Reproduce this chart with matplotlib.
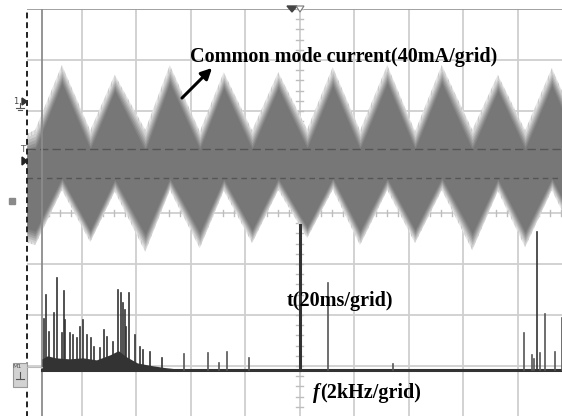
import matplotlib
matplotlib.use("Agg")
import matplotlib.pyplot as plt
from matplotlib.patches import Rectangle, FancyArrowPatch
import numpy as np

# ---------------- data ----------------
# time-domain envelope vertices (divisions, 20 ms/div)
wave_t = [0.00, 0.15, 0.64, 1.16, 1.61, 2.17, 2.62, 3.17, 3.61, 4.13, 4.61,
          5.14, 5.61, 6.11, 6.61, 7.12, 7.61, 8.17, 8.64, 9.14, 9.63, 10.14]
upper_outer = [1.55, 1.63, 2.90, 1.62, 2.71, 1.63, 2.90, 1.60, 2.76, 1.62, 2.76,
               1.64, 2.86, 1.62, 2.90, 1.60, 2.90, 1.63, 2.71, 1.62, 2.84, 1.62]
upper_inner = [1.20, 1.25, 2.55, 1.25, 2.40, 1.22, 2.55, 1.25, 2.45, 1.25, 2.45,
               1.27, 2.50, 1.25, 2.55, 1.25, 2.55, 1.24, 2.40, 1.25, 2.50, 1.25]
lower_inner = [-0.30, -0.36, 0.69, -0.34, 0.66, -0.42, 0.68, -0.38, 0.67, -0.33, 0.68,
               -0.28, 0.69, -0.35, 0.68, -0.33, 0.69, -0.40, 0.67, -0.37, 0.68, -0.36]
lower_outer = [-0.58, -0.63, 0.45, -0.57, 0.42, -0.76, 0.45, -0.69, 0.44, -0.59, 0.45,
               -0.49, 0.46, -0.63, 0.45, -0.59, 0.45, -0.73, 0.43, -0.67, 0.45, -0.66]

# spectrum (kHz, 2 kHz/div) : spike heights in divisions above baseline
spec_f = [0.07, 0.15, 0.26, 0.44, 0.55, 0.73, 0.81, 0.84, 1.03, 1.14, 1.28, 1.39,
          1.50, 1.65, 1.80, 1.91, 2.13, 2.28, 2.39, 2.61, 2.79, 2.90, 2.97, 3.05,
          3.08, 3.19, 3.41, 3.60, 3.71, 3.96, 4.40, 5.21, 6.09, 6.50, 6.79, 7.60,
          9.47, 10.50, 12.88, 17.69, 17.98, 18.06, 18.17, 18.28, 18.46, 18.83, 19.08]
spec_a = [1.00, 1.47, 0.75, 1.12, 1.80, 0.73, 1.55, 0.98, 0.73, 0.69, 0.63, 0.84,
          0.98, 0.69, 0.63, 0.45, 0.43, 0.78, 0.65, 0.55, 1.57, 1.51, 1.31, 1.18,
          0.84, 1.51, 0.69, 0.45, 0.39, 0.35, 0.24, 0.31, 0.33, 0.14, 0.35, 0.24,
          2.84, 1.71, 0.12, 0.73, 0.30, 0.22, 2.70, 0.34, 1.10, 0.35, 1.02]
hump_f = [0.0, 0.2, 0.5, 1.0, 1.5, 2.0, 2.5, 2.8, 3.1, 3.5, 4.0, 4.5, 5.0]
hump_a = [0.22, 0.28, 0.24, 0.22, 0.24, 0.20, 0.30, 0.38, 0.26, 0.14, 0.09, 0.05, 0.02]

W, H = 562, 416
plt.rcParams["hatch.linewidth"] = 0.6
fig = plt.figure(figsize=(W / 100, H / 100), dpi=100)
fig.patch.set_facecolor("white")

def fx(px):
    return px / W

def fy(py):
    return 1 - py / H

# axes: 10 x 8 divisions, left edge at px 27, top at px 9
ax = fig.add_axes([fx(27), fy(417), 545 / W, 408 / H])
ax.set_xlim(0, 10)
ax.set_ylim(-4, 4)
ax.axis("off")

grid_c = "#cfcfcf"
for k in range(1, 10):
    ax.axvline(k, color=grid_c, lw=1.3, zorder=0)
for k in range(-3, 4):
    ax.axhline(k, color=grid_c, lw=1.3, zorder=0)
ax.axhline(4, color="#9a9a9a", lw=1.3, zorder=0)

# centre axes with minor ticks
for v in np.arange(-4, 4.01, 0.2):
    ax.plot([4.94, 5.06], [v, v], color="#bdbdbd", lw=1.0, zorder=0)
for v in np.arange(0, 10.01, 0.2):
    ax.plot([v, v], [-0.06, 0.06], color="#bdbdbd", lw=1.0, zorder=0)

# waveform band: graded layers between outer and inner envelopes
uo, ui = np.array(upper_outer), np.array(upper_inner)
lo, li = np.array(lower_outer), np.array(lower_inner)
ax.fill_between(wave_t, lo, uo, facecolor="#e4e4e4", edgecolor="#c4c4c4",
                hatch="|||||", lw=0, zorder=2)
shades = ["#cfcfcf", "#bababa", "#a6a6a6", "#939393", "#838383", "#777777"]
n = len(shades)
for i, c in enumerate(shades):
    s = (i + 1) / n
    ax.fill_between(wave_t, lo + (li - lo) * s, uo + (ui - uo) * s,
                    color=c, lw=0, zorder=2)

# cursors
ax.axhline(1.25, color="#555555", lw=1.0, ls=(0, (6, 3)), zorder=3)
ax.axhline(0.69, color="#555555", lw=1.0, ls=(0, (4, 3)), zorder=3)
ax.axvline(0.275, color="#8c8c8c", lw=1.3, zorder=3)
ax.plot([0, 0], [-4, 4], color="#222222", lw=1.4, ls=(0, (3, 2)), zorder=4, clip_on=False)

# spectrum
base = -3.08
f0 = 0.275
st = [f0 + f / 2 for f in spec_f]
hx = [f0 + f / 2 for f in hump_f]
ax.fill_between(hx, base, [base + a for a in hump_a], color="#333333", lw=0, zorder=4)
ax.plot([f0, 10], [base, base], color="#333333", lw=2.2, zorder=4)
for t, a in zip(st, spec_a):
    lw = 2.2 if a > 2.8 else 1.2
    col = "#333333" if (a > 2.5 or t < 2.5) else "#555555"
    ax.plot([t, t], [base, base + a], color=col, lw=lw, zorder=4)

# annotations
serif = ["Liberation Serif", "DejaVu Serif"]
fig.text(fx(344), fy(57), "Common mode current(40mA/grid)", family=serif,
         weight="bold", fontsize=14.5, ha="center", va="center")
fig.text(fx(340), fy(301), "t(20ms/grid)", family=serif, weight="bold",
         fontsize=14.5, ha="center", va="center")
fig.text(fx(313), fy(393), "f", family=serif, weight="bold", style="italic",
         fontsize=14.5, ha="left", va="center")
fig.text(fx(320), fy(393), "(2kHz/grid)", family=serif, weight="bold",
         fontsize=14.5, ha="left", va="center")
fig.patches.append(FancyArrowPatch((fx(180), fy(100)), (fx(214), fy(66)),
                                   transform=fig.transFigure, arrowstyle="-|>",
                                   mutation_scale=16, lw=2.2, color="black"))

# left side markers
fig.text(fx(16), fy(101), "1", fontsize=6, color="#444444", ha="center", va="center")
fig.patches.append(plt.Polygon([(fx(22), fy(98)), (fx(22), fy(105)), (fx(27), fy(101.5))],
                               closed=True, transform=fig.transFigure, color="#333333"))
fig.lines.append(plt.Line2D([fx(20), fx(20)], [fy(103), fy(108)], transform=fig.transFigure,
                            color="#555555", lw=0.8))
fig.lines.append(plt.Line2D([fx(16), fx(24)], [fy(108), fy(108)], transform=fig.transFigure,
                            color="#555555", lw=0.8))
fig.lines.append(plt.Line2D([fx(18), fx(22)], [fy(110), fy(110)], transform=fig.transFigure,
                            color="#555555", lw=0.8))
fig.text(fx(23), fy(150), "T", fontsize=6.5, color="#555555", ha="center", va="center")
fig.patches.append(plt.Polygon([(fx(22), fy(157)), (fx(22), fy(165)), (fx(27), fy(161))],
                               closed=True, transform=fig.transFigure, color="#222222"))
fig.patches.append(Rectangle((fx(9), fy(204)), 6 / W, 6 / H, transform=fig.transFigure,
                             color="#8a8a8a"))
fig.patches.append(Rectangle((fx(13), fy(387)), 14 / W, 24 / H, transform=fig.transFigure,
                             facecolor="#d2d2d2", edgecolor="#9a9a9a", lw=0.8))
fig.text(fx(17), fy(367), "M1", fontsize=4.5, color="#555555", ha="center", va="center")
fig.lines.append(plt.Line2D([fx(20), fx(20)], [fy(372), fy(379)], transform=fig.transFigure,
                            color="#555555", lw=0.8))
fig.lines.append(plt.Line2D([fx(16), fx(24)], [fy(379), fy(379)], transform=fig.transFigure,
                            color="#555555", lw=0.8))
fig.lines.append(plt.Line2D([fx(27), fx(42)], [fy(367), fy(367)], transform=fig.transFigure,
                            color="#bbbbbb", lw=0.8))
fig.patches.append(plt.Polygon([(fx(287), fy(6)), (fx(297), fy(6)), (fx(292), fy(12))],
                               closed=True, transform=fig.transFigure, color="#444444"))
fig.patches.append(plt.Polygon([(fx(296), fy(6)), (fx(304), fy(6)), (fx(300), fy(12))],
                               closed=True, transform=fig.transFigure, facecolor="white",
                               edgecolor="#777777", lw=0.8))

fig.savefig("out.png", dpi=100, facecolor="white")
